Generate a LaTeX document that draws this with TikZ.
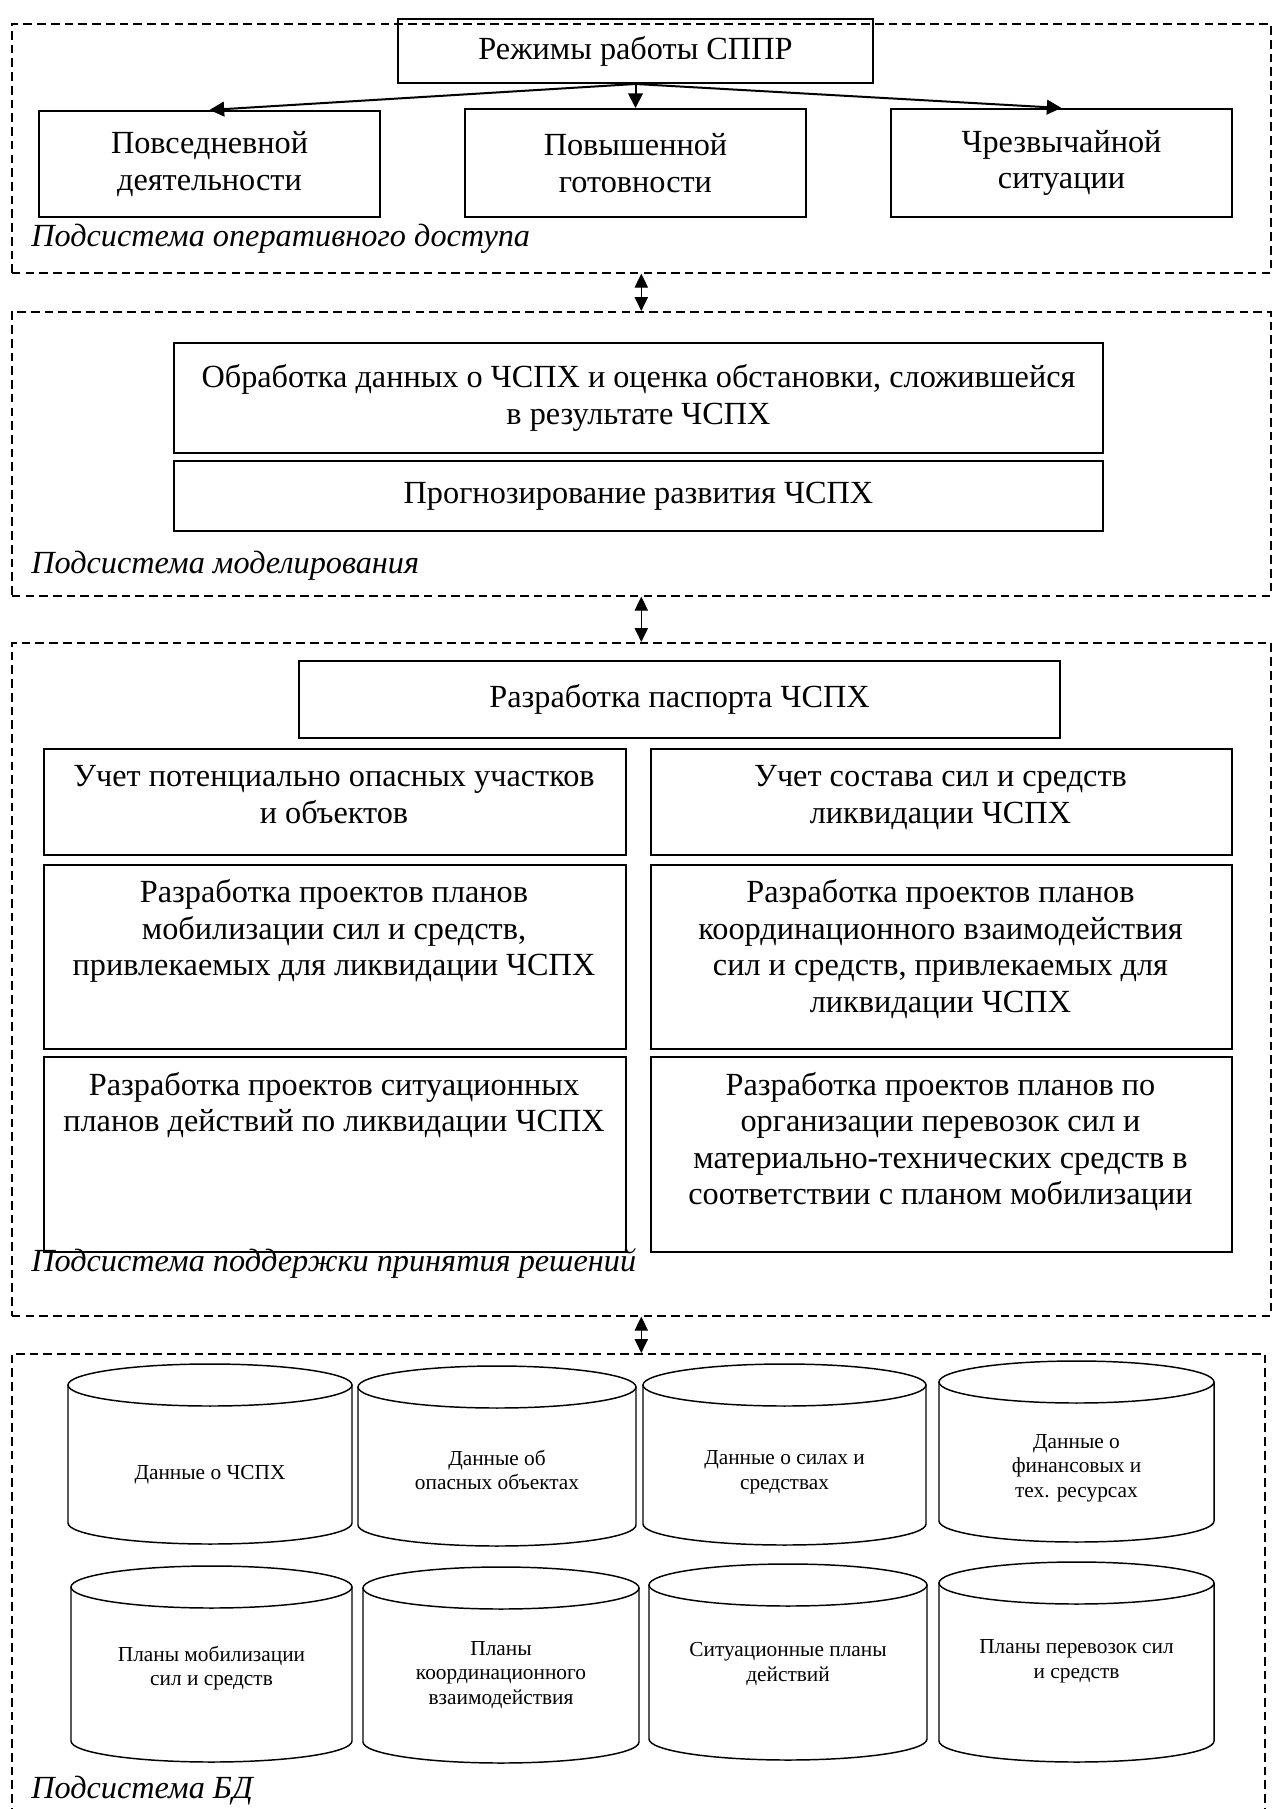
\documentclass[tikz,border=0pt]{standalone}
\usepackage{fontspec}
\setmainfont{Liberation Serif}
\usetikzlibrary{arrows.meta}

\tikzset{
  sysbox/.style={draw, dash pattern=on 6.5pt off 3.8pt, line width=1.2pt, inner sep=0, anchor=north west},
  plainbox/.style={draw, line width=1.5pt, inner sep=0, anchor=north west, align=center,
                   font=\fontsize{24.2}{27.4}\selectfont},
  bigtxt/.style={font=\fontsize{24.2}{27.4}\selectfont, align=center, inner sep=0},
  smalltxt/.style={font=\fontsize{16}{18.5}\selectfont, align=center, inner sep=0},
  syslabel/.style={font=\fontsize{24.2}{27.4}\selectfont\itshape, anchor=base west, inner sep=0},
  modearrow/.style={line width=1.5pt, -{Triangle[length=11pt,width=11pt]}},
  linkarrow/.style={line width=0.8pt, {Triangle[length=10.5pt,width=10pt]}-{Triangle[length=10.5pt,width=10pt]}},
  cylline/.style={line width=1.1pt},
}

\newcommand\mkbox[6]{\node[plainbox, minimum width={(#4-#2)*0.75pt}, minimum height={(#5-#3)*0.75pt}] (#1) at (#2,#3) {#6};}
\newcommand\mksys[5]{\node[sysbox, minimum width={(#4-#2)*0.75pt}, minimum height={(#5-#3)*0.75pt}] (#1) at (#2,#3) {};}
\newcommand\dbcyl[5]{%
  \pgfmathsetmacro\cyca{(#2+#3)/2}%
  \pgfmathsetmacro\cykx{0.5523*(#3-#2)/2}%
  \pgfmathsetmacro\cyta{#4+21}%
  \pgfmathsetmacro\cyba{#5-21}%
  \coordinate (#1) at (\cyca,{(#4+#5)/2});
  \draw[cylline] (#2,\cyta) .. controls (#2,\cyta-11.6) and (\cyca-\cykx,#4) .. (\cyca,#4)
     .. controls (\cyca+\cykx,#4) and (#3,\cyta-11.6) .. (#3,\cyta)
     .. controls (#3,\cyta+11.6) and (\cyca+\cykx,\cyta+21) .. (\cyca,\cyta+21)
     .. controls (\cyca-\cykx,\cyta+21) and (#2,\cyta+11.6) .. (#2,\cyta) -- cycle;
  \draw[cylline] (#2,\cyta) -- (#2,\cyba)
     .. controls (#2,\cyba+11.6) and (\cyca-\cykx,#5) .. (\cyca,#5)
     .. controls (\cyca+\cykx,#5) and (#3,\cyba+11.6) .. (#3,\cyba) -- (#3,\cyta);
}

\begin{document}
\begin{tikzpicture}[x=0.75pt,y=-0.75pt]
\useasboundingbox (0,0) rectangle (1272,1809);
\fill[white] (0,0) rectangle (1272,1809);

% ---------- subsystem 1 ----------
\mksys{sys1}{11}{23}{1270}{272}
\mkbox{mode}{397}{18}{872}{82}{Режимы работы СППР}
\mkbox{b1}{38}{110}{379}{216}{Повседневной\\деятельности}
\mkbox{b2}{464}{108}{805}{216}{Повышенной\\готовности}
\mkbox{b3}{890}{108}{1231}{216}{Чрезвычайной\\ситуации}
\draw[modearrow] (mode.south) -- (b1.north);
\draw[modearrow] (mode.south) -- (b2.north);
\draw[modearrow] (mode.south) -- (b3.north);
\node[syslabel] (lab1) at (31,246) {Подсистема оперативного доступа};

% ---------- subsystem 2 ----------
\mksys{sys2}{11}{311}{1270}{595}
\mkbox{proc}{173}{342}{1102}{452}{Обработка данных о ЧСПХ и оценка обстановки, сложившейся\\в результате ЧСПХ}
\mkbox{prog}{173}{460}{1102}{530}{Прогнозирование развития ЧСПХ}
\node[syslabel] (lab2) at (31,573) {Подсистема моделирования};

% ---------- subsystem 3 ----------
\mksys{sys3}{11}{642}{1270}{1315}
\mkbox{pass}{298}{660}{1059}{737}{Разработка паспорта ЧСПХ}
\mkbox{r1l}{43}{747.5}{625}{854}{}
\mkbox{r1r}{650}{747.5}{1231}{854}{}
\mkbox{r2l}{43}{863.5}{625}{1048}{}
\mkbox{r2r}{650}{863.5}{1231}{1048}{}
\mkbox{r3l}{43}{1056}{625}{1251}{}
\mkbox{r3r}{650}{1056}{1231}{1251}{}
\node[bigtxt, anchor=north] (r1lt) at (334,761) {\strut Учет потенциально опасных участков\\и объектов};
\node[bigtxt, anchor=north] (r1rt) at (940.5,761) {\strut Учет состава сил и средств\\ликвидации ЧСПХ};
\node[bigtxt, anchor=north] (r2lt) at (334,877) {\strut Разработка проектов планов\\мобилизации сил и средств,\\привлекаемых для ликвидации ЧСПХ};
\node[bigtxt, anchor=north] (r2rt) at (940.5,877) {\strut Разработка проектов планов\\координационного взаимодействия\\сил и средств, привлекаемых для\\ликвидации ЧСПХ};
\node[bigtxt, anchor=north] (r3lt) at (334,1069.5) {\strut Разработка проектов ситуационных\\планов действий по ликвидации ЧСПХ};
\node[bigtxt, anchor=north] (r3rt) at (940.5,1069.5) {\strut Разработка проектов планов по\\организации перевозок сил и\\материально-технических средств в\\соответствии с планом мобилизации};
\node[syslabel] (lab3) at (31,1271) {Подсистема поддержки принятия решений};

% ---------- subsystem 4 ----------
\mksys{sys4}{11}{1353}{1264}{1840}
\dbcyl{c1}{68}{352}{1364}{1544}
\dbcyl{c2}{358}{636}{1366}{1546}
\dbcyl{c3}{643}{926}{1364}{1545}
\dbcyl{c4}{939}{1214}{1361}{1542}
\dbcyl{c5}{71}{352}{1566}{1762}
\dbcyl{c6}{363}{639}{1567}{1763}
\dbcyl{c7}{649}{927}{1564}{1760}
\dbcyl{c8}{939}{1214}{1562}{1762}
\node[smalltxt] (t1) at (210,1475) {Данные о ЧСПХ};
\node[smalltxt] (t2) at (497,1470) {Данные об\\опасных объектах};
\node[smalltxt] (t3) at (784.5,1472) {Данные о силах и\\средствах};
\node[smalltxt] (t4) at (1076.5,1468) {Данные о\\финансовых и\\тех. ресурсах};
\node[smalltxt] (t5) at (211.5,1668) {Планы мобилизации\\сил и средств};
\node[smalltxt] (t6) at (501,1675) {Планы\\координационного\\взаимодействия};
\node[smalltxt] (t7) at (788,1664) {Ситуационные планы\\действий};
\node[smalltxt] (t8) at (1076.5,1661) {Планы перевозок сил\\и средств};
\node[syslabel] (lab4) at (31,1798) {Подсистема БД};

% ---------- links between subsystems ----------
\draw[linkarrow] (sys1.south) -- (sys2.north);
\draw[linkarrow] (sys2.south) -- (sys3.north);
\draw[linkarrow] (sys3.south) -- (sys3.south |- sys4.north);
\end{tikzpicture}
\end{document}
